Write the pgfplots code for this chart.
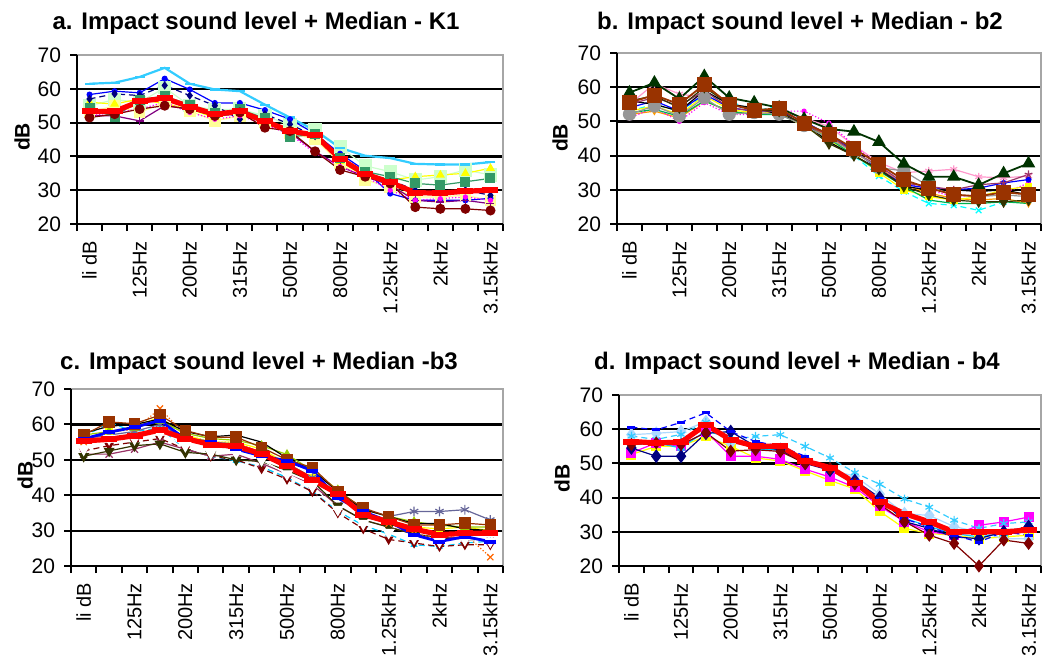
\documentclass[border=0pt]{standalone}
\usepackage{pgfplots}
\pgfplotsset{compat=1.18}
\usepackage{pgfplotstable}
\usepackage{fontspec}
\setmainfont{Liberation Sans}
\usetikzlibrary{plotmarks}

\definecolor{cNavy}{HTML}{000080}
\definecolor{cBlue}{HTML}{0000FF}
\definecolor{cSky}{HTML}{33CCFF}
\definecolor{cCyan}{HTML}{00FFFF}
\definecolor{cLcyan}{HTML}{CCFFFF}
\definecolor{cSgreen}{HTML}{339966}
\definecolor{cLgreen}{HTML}{CCFFCC}
\definecolor{cYellow}{HTML}{FFFF00}
\definecolor{cLyellow}{HTML}{FFFF99}
\definecolor{cPurple}{HTML}{800080}
\definecolor{cDred}{HTML}{800000}
\definecolor{cMagenta}{HTML}{FF00FF}
\definecolor{cPink}{HTML}{FF99CC}
\definecolor{cOrange}{HTML}{FF9900}
\definecolor{cOrred}{HTML}{FF6600}
\definecolor{cPlum}{HTML}{993366}
\definecolor{cGray}{HTML}{969696}
\definecolor{cOlive}{HTML}{333300}
\definecolor{cDgreen}{HTML}{003300}
\definecolor{cBrown}{HTML}{993300}
\definecolor{cGreen}{HTML}{00B050}
\definecolor{cLime}{HTML}{99CC00}
\definecolor{cGblue}{HTML}{666699}
\definecolor{cTeal}{HTML}{00CCFF}
\definecolor{cFrame}{HTML}{A6A6A6}

% Panel a
\pgfplotstableread{
x cyan blue navy sgreen lgreen yellow lyellow purple dred magenta med
0  61.5 58.3 57.0 54.2 55.0 56.0 53.0 52.0 51.5 52.0 53.3
1  61.8 59.3 58.5 51.7 56.8 55.5 55.0 52.0 52.5 53.0 53.3
2  63.5 58.8 58.0 56.8 56.0 57.0 53.0 50.5 54.0 54.0 56.3
3  66.2 63.0 61.0 57.8 60.3 55.5 56.0 55.0 55.0 56.0 57.2
4  61.5 59.8 58.0 55.3 55.0 54.0 53.5 54.0 54.0 53.0 54.7
5  59.8 55.8 55.0 52.7 53.8 51.5 50.5 52.0 52.0 51.0 52.5
6  59.3 55.8 51.0 53.9 54.0 53.0 52.0 52.5 53.0 52.0 53.3
7  55.3 53.7 52.5 51.3 52.0 50.0 50.0 50.0 48.5 49.5 50.4
8  51.5 51.0 49.5 45.8 49.3 47.0 47.0 47.0 47.5 46.5 47.5
9  47.7 46.7 46.0 46.5 48.0 46.0 45.0 41.5 41.5 41.0 46.3
10 42.5 40.8 40.0 39.5 42.8 38.5 38.0 37.0 36.0 37.0 39.3
11 40.2 35.8 35.0 35.5 37.2 34.0 33.0 34.0 34.0 34.0 34.8
12 39.5 29.0 33.0 34.0 35.5 33.0 31.0 31.5 32.0 30.0 32.3
13 37.8 27.0 30.0 32.0 33.0 34.0 28.0 27.0 25.0 27.0 29.3
14 37.6 27.0 29.5 31.5 34.0 34.5 28.0 26.5 24.5 27.5 29.1
15 37.6 27.0 30.0 32.5 36.0 35.0 28.5 27.0 24.5 28.0 29.7
16 38.3 27.6 28.5 33.5 34.5 36.5 27.0 26.0 24.0 27.0 30.0
}\tA

% Panel b
\pgfplotstableread{
x pink cyan orange magenta blue yellow green black plum gray olive dgreen brown
0  55.0 53.0 52.0 51.0 54.0 53.0 52.5 56.0 55.0 52.1 56.0 58.4 55.5
1  61.0 55.0 53.0 54.0 56.0 54.5 53.5 55.0 57.0 54.5 57.5 61.3 57.7
2  58.0 53.0 51.0 50.0 53.0 52.0 51.5 53.0 54.5 51.6 54.0 56.6 55.0
3  57.0 57.5 56.0 55.5 58.0 57.5 56.0 59.0 59.0 56.9 60.0 63.2 60.8
4  55.5 56.0 53.0 52.0 54.0 53.5 53.0 55.0 54.0 52.1 55.0 56.9 55.0
5  53.5 53.0 52.0 52.0 53.0 52.5 52.0 54.0 53.0 52.6 53.5 55.5 53.3
6  53.0 54.5 53.0 53.0 53.0 52.5 52.0 52.0 53.0 52.1 53.0 54.0 53.8
7  51.0 49.0 49.0 53.0 50.0 48.5 49.0 49.5 49.0 48.8 49.0 50.7 49.5
8  48.5 44.0 45.5 49.5 46.0 44.5 45.0 44.0 46.0 45.0 43.5 47.8 46.3
9  43.0 40.0 41.0 43.0 41.5 40.5 40.0 40.0 41.0 41.0 40.0 47.0 42.0
10 38.0 34.0 36.5 37.0 36.0 35.0 35.5 36.0 37.0 36.5 36.0 44.0 37.5
11 35.0 29.5 31.5 32.0 31.5 30.0 31.0 31.0 32.0 35.5 31.0 37.6 32.9
12 35.5 26.0 29.0 30.0 30.5 28.0 27.0 30.0 31.0 31.0 28.5 33.8 30.5
13 36.0 25.5 27.5 28.0 30.0 27.0 26.0 30.0 30.0 28.5 27.0 33.8 28.6
14 33.8 24.0 27.0 28.5 30.5 28.0 26.0 29.5 31.5 28.0 26.5 31.4 28.1
15 33.5 26.5 27.5 29.0 32.0 30.0 26.5 30.0 32.0 28.5 26.5 34.8 29.3
16 34.0 27.0 26.0 32.0 33.0 31.0 26.0 28.5 34.5 28.0 27.0 37.7 28.6
}\tB

% Panel c
\pgfplotstableread{
x cyan dred purple olive orange yellow gblue green black brown white blue med
0  56.5 52.5 51.6 51.0 55.0 56.0 56.0 57.0 57.5 57.0 53.0 55.9 55.3
1  60.5 54.0 51.6 52.5 58.0 58.0 57.0 58.0 59.5 60.7 56.0 57.8 55.8
2  58.0 55.0 53.0 54.0 58.5 59.5 58.0 59.0 60.0 60.2 56.0 59.2 56.8
3  59.0 56.0 55.0 54.5 64.5 62.0 60.0 61.0 61.5 62.6 57.5 61.1 58.4
4  53.0 53.0 53.0 52.1 57.0 57.0 56.0 57.5 58.0 58.3 54.0 55.9 56.0
5  51.0 51.0 51.0 51.6 55.0 55.0 55.0 56.0 56.5 56.4 52.0 55.0 54.3
6  49.7 50.0 51.6 50.0 55.0 55.0 54.5 55.5 57.0 56.4 52.0 53.0 53.8
7  48.0 47.5 49.0 49.5 52.0 53.0 52.0 54.0 55.0 53.5 50.0 51.1 51.7
8  45.0 44.5 46.0 47.0 49.0 49.0 49.0 51.5 50.5 50.0 46.0 49.7 48.2
9  41.0 41.0 43.0 44.0 45.0 45.0 45.0 47.0 47.0 47.8 42.5 46.9 44.4
10 35.5 35.0 37.0 37.0 40.0 40.0 40.0 41.5 41.0 41.1 36.0 39.2 40.4
11 31.5 30.5 33.0 33.0 35.0 35.0 36.0 36.0 36.0 36.4 32.0 35.4 34.5
12 29.0 27.5 31.0 31.0 32.0 33.0 34.0 34.0 34.0 34.0 29.5 32.6 32.5
13 26.0 26.5 29.0 29.0 29.0 31.0 35.4 32.5 32.0 31.6 28.0 28.8 30.4
14 25.5 25.5 28.0 28.0 28.0 30.5 35.4 31.5 32.0 31.6 27.0 26.9 28.9
15 26.5 26.0 28.0 27.5 29.0 31.0 35.9 31.0 30.5 32.1 27.5 28.3 29.2
16 27.0 26.0 27.0 27.0 22.5 30.0 33.0 31.0 30.0 31.6 27.0 26.9 29.3
}\tC

% Panel d
\pgfplotstableread{
x yellow magenta lcyan cyan teal navy blue dred med
0  52.6 53.1 58.4 58.0 55.5 54.5 60.6 55.5 56.4
1  55.0 56.0 58.8 57.0 56.0 52.1 59.8 56.0 56.0
2  55.0 55.0 59.3 58.5 54.5 52.1 62.0 55.5 56.2
3  57.9 59.3 62.2 62.0 59.5 58.8 64.8 59.0 61.3
4  55.0 52.1 56.0 57.0 57.5 59.3 59.3 53.6 56.9
5  51.6 52.1 55.0 57.9 54.0 55.0 56.4 54.0 55.0
6  50.7 51.2 54.0 58.4 54.0 54.0 55.0 53.5 55.0
7  47.8 48.3 51.0 55.0 50.5 50.0 52.1 50.0 50.7
8  45.0 46.0 48.0 51.6 48.0 48.0 48.3 48.5 48.8
9  42.5 43.0 46.3 47.3 44.5 45.0 44.9 44.0 44.4
10 36.0 37.5 41.0 43.9 39.0 40.0 39.6 38.0 38.7
11 31.0 33.0 35.3 39.6 34.0 33.0 33.8 33.0 35.3
12 29.5 30.0 34.8 37.2 31.5 31.0 31.4 29.0 32.9
13 29.0 29.0 31.5 33.4 29.5 28.5 29.0 26.6 30.0
14 28.0 31.9 30.0 31.0 28.5 28.0 27.0 20.0 30.0
15 28.5 32.9 28.0 32.4 29.5 30.0 30.0 27.6 30.0
16 29.0 34.3 28.0 32.9 31.5 31.5 29.0 26.6 30.5
}\tD

\pgfplotsset{
  panel/.style={
    scale only axis,
    xmin=-0.5, xmax=16.5, ymin=20, ymax=70,
    clip=false,
    axis line style={draw=none},
    ytick={20,30,...,70},
    ymajorgrids,
    grid style={black, line width=1.1pt},
    xtick={-0.5,0.5,...,16.5},
    xticklabels={},
    extra x ticks={0,2,...,16},
    extra x tick labels={li dB,125Hz,200Hz,315Hz,500Hz,800Hz,1.25kHz,2kHz,3.15kHz},
    extra x tick style={major tick length=0pt, grid=none},
    xtick pos=left, ytick pos=left,
    tick align=outside,
    major tick length=3.5pt,
    tick style={black, line width=1pt},
    xticklabel style={rotate=90, anchor=east, font=\fontsize{10}{12}\selectfont},
    xticklabel shift=5pt,
    yticklabel style={font=\fontsize{10.5}{12}\selectfont},
    yticklabel shift=1pt,
    /pgf/number format/assume math mode=true,
    every axis plot/.append style={line width=0.6pt, mark size=1.6pt},
  },
  median/.style={color=red, line width=2.6pt, mark=-, mark size=4pt, mark options={line width=3pt}},
}

\newcommand{\frameit}{%
  \draw[cFrame, line width=1.1pt] (rel axis cs:0,1) -- (rel axis cs:1,1) -- (rel axis cs:1,0);
  \draw[black, line width=1.1pt] (rel axis cs:0,1) -- (rel axis cs:0,0) -- (rel axis cs:1,0);
}

\begin{document}
\begin{tikzpicture}
\tikzset{ttl/.style={font=\fontsize{12}{14}\selectfont\bfseries}, ylab/.style={rotate=90, font=\fontsize{10.5}{12}\selectfont\bfseries}}

% ---------- a ----------
\begin{axis}[panel, at={(38.5pt,-112pt)}, anchor=south west, width=213pt, height=84.5pt]
\addplot[color=cLgreen, mark=square*, mark size=3pt] table[x=x,y=lgreen]{\tA};
\addplot[color=cLyellow, mark=square*, mark size=2.6pt] table[x=x,y=lyellow]{\tA};
\addplot[color=cYellow, mark=triangle*, mark size=2pt] table[x=x,y=yellow]{\tA};
\addplot[color=cSky, line width=1.1pt, mark=-, mark size=2.5pt] table[x=x,y=cyan]{\tA};
\addplot[color=cBlue, mark=*, mark size=1.2pt] table[x=x,y=blue]{\tA};
\addplot[color=cNavy, densely dashed, mark=diamond*, mark size=1.6pt, mark options={solid}] table[x=x,y=navy]{\tA};
\addplot[color=cPurple, mark=+, mark size=2pt] table[x=x,y=purple]{\tA};
\addplot[color=cMagenta, densely dotted, mark=*, mark size=1pt, mark options={solid}] table[x=x,y=magenta]{\tA};
\addplot[color=cSgreen, mark=square*, mark size=2.2pt] table[x=x,y=sgreen]{\tA};
\addplot[color=cDred, mark=*, mark size=2.2pt] table[x=x,y=dred]{\tA};
\addplot[median] table[x=x,y=med]{\tA};
\frameit
\end{axis}
\node[ttl] at (128pt,-11.5pt) {a. Impact sound level + Median - K1};
\node[ylab] at (11pt,-68.5pt) {dB};

% ---------- b ----------
\begin{axis}[panel, at={(308.5pt,-112pt)}, anchor=south west, width=212pt, height=85.5pt]
\addplot[color=cPink, mark=asterisk, mark size=2pt] table[x=x,y=pink]{\tB};
\addplot[color=cCyan, densely dashed, mark=x, mark size=2pt, mark options={solid}] table[x=x,y=cyan]{\tB};
\addplot[color=cOrange, mark=triangle*, mark size=1.6pt, mark options={rotate=180}] table[x=x,y=orange]{\tB};
\addplot[color=cMagenta, densely dotted, mark=*, mark size=1pt, mark options={solid}] table[x=x,y=magenta]{\tB};
\addplot[color=cBlue, mark=*, mark size=1.2pt] table[x=x,y=blue]{\tB};
\addplot[color=cYellow, mark=square*, mark size=1.6pt] table[x=x,y=yellow]{\tB};
\addplot[color=cGreen, mark=none] table[x=x,y=green]{\tB};
\addplot[color=black, mark=-, mark size=2pt] table[x=x,y=black]{\tB};
\addplot[color=cPlum, mark=star, mark size=2pt] table[x=x,y=plum]{\tB};
\addplot[color=cGray, mark=*, mark size=3pt] table[x=x,y=gray]{\tB};
\addplot[color=cOlive, mark=triangle*, mark size=2.6pt, mark options={rotate=180}] table[x=x,y=olive]{\tB};
\addplot[color=cDgreen, line width=0.9pt, mark=triangle*, mark size=3pt] table[x=x,y=dgreen]{\tB};
\addplot[color=cBrown, line width=0.9pt, mark=square*, mark size=3.3pt] table[x=x,y=brown]{\tB};
\frameit
\end{axis}
\node[ttl] at (400pt,-11.5pt) {b. Impact sound level + Median - b2};
\node[ylab] at (280pt,-69pt) {dB};

% ---------- c ----------
\begin{axis}[panel, at={(35.5pt,-283pt)}, anchor=south west, width=216pt, height=88.5pt]
\addplot[color=cCyan!80!blue, densely dashed, mark=triangle*, mark size=1.5pt, mark options={solid}] table[x=x,y=cyan]{\tC};
\addplot[color=cDred, densely dashed, mark=triangle*, mark size=2.2pt, mark options={solid, rotate=180}] table[x=x,y=dred]{\tC};
\addplot[color=cPlum, mark=x, mark size=2.5pt] table[x=x,y=purple]{\tC};
\addplot[color=cOlive, mark=triangle*, mark size=2.6pt, mark options={rotate=180}] table[x=x,y=olive]{\tC};
\addplot[color=cOrred, densely dotted, mark=x, mark size=2.2pt, mark options={solid}] table[x=x,y=orange]{\tC};
\addplot[color=cYellow, mark=square*, mark size=1.6pt] table[x=x,y=yellow]{\tC};
\addplot[color=cGblue, mark=asterisk, mark size=2.4pt] table[x=x,y=gblue]{\tC};
\addplot[color=cLime, mark=triangle*, mark size=2.2pt] table[x=x,y=green]{\tC};
\addplot[color=black, mark=-, mark size=2.5pt] table[x=x,y=black]{\tC};
\addplot[color=cBrown, mark=square*, mark size=2.6pt] table[x=x,y=brown]{\tC};
\addplot[color=white, mark=triangle*, mark size=3pt, mark options={rotate=180}] table[x=x,y=white]{\tC};
\addplot[color=cBlue, line width=1.4pt, mark=-, mark size=3pt, mark options={line width=2pt}] table[x=x,y=blue]{\tC};
\addplot[median] table[x=x,y=med]{\tC};
\frameit
\end{axis}
\node[ttl] at (129.5pt,-181.5pt) {c. Impact sound level + Median -b3};
\node[ylab] at (12.5pt,-237.5pt) {dB};

% ---------- d ----------
\begin{axis}[panel, at={(309.5pt,-283pt)}, anchor=south west, width=211pt, height=85.5pt]
\addplot[color=cYellow, mark=square*, mark size=2.2pt] table[x=x,y=yellow]{\tD};
\addplot[color=cMagenta, mark=square*, mark size=2.2pt] table[x=x,y=magenta]{\tD};
\addplot[color=cLcyan!85!blue, mark=diamond*, mark size=3pt] table[x=x,y=lcyan]{\tD};
\addplot[color=cSky, densely dashed, mark=asterisk, mark size=2.2pt, mark options={solid}] table[x=x,y=cyan]{\tD};
\addplot[color=cTeal, mark=triangle*, mark size=2pt] table[x=x,y=teal]{\tD};
\addplot[color=cNavy, mark=diamond*, mark size=3pt] table[x=x,y=navy]{\tD};
\addplot[color=cBlue, densely dashed, mark=-, mark size=2pt, mark options={solid, line width=1.5pt}] table[x=x,y=blue]{\tD};
\addplot[color=cDred, mark=diamond*, mark size=2.8pt] table[x=x,y=dred]{\tD};
\addplot[median] table[x=x,y=med]{\tD};
\frameit
\end{axis}
\node[ttl] at (398.5pt,-181.5pt) {d. Impact sound level + Median - b4};
\node[ylab] at (281pt,-239pt) {dB};

\pgfresetboundingbox
\path[use as bounding box] (0pt,0pt) rectangle (521pt,-332pt);
\end{tikzpicture}
\end{document}
